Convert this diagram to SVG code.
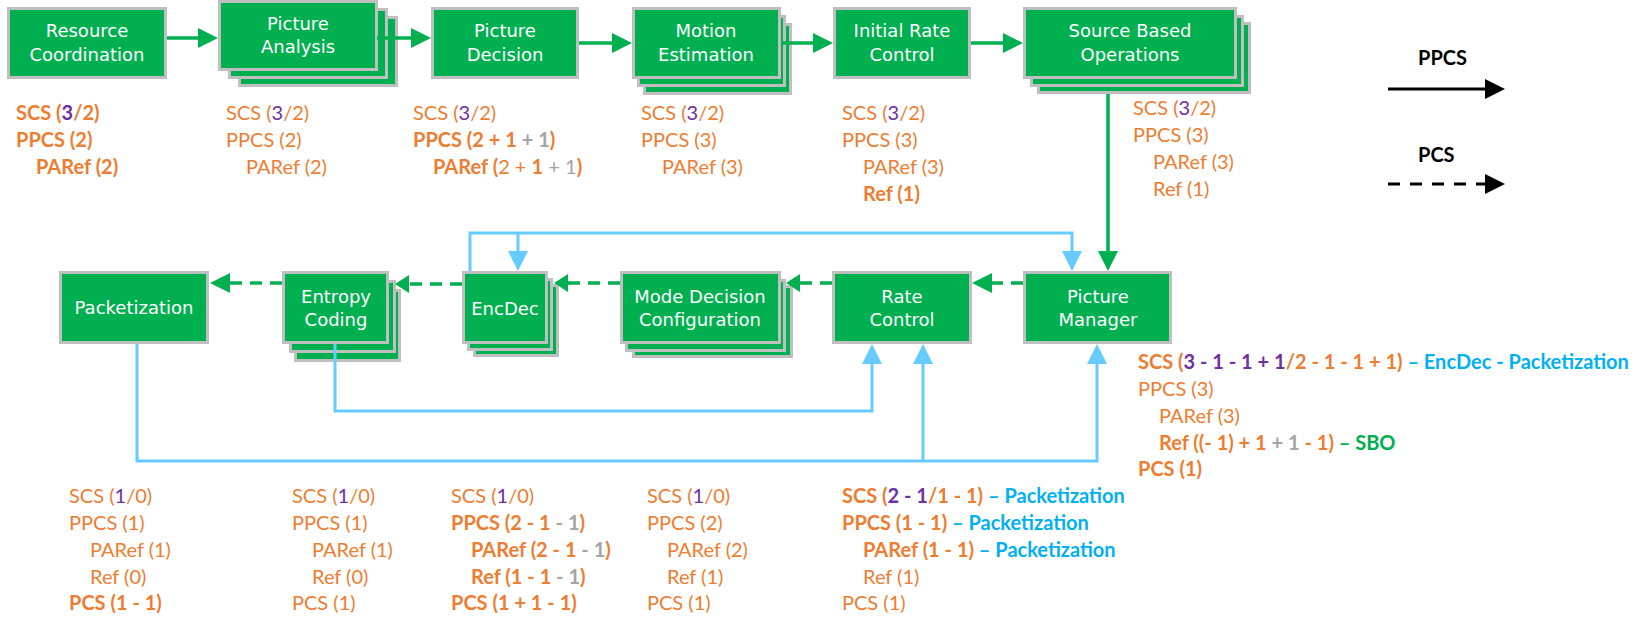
<svg xmlns="http://www.w3.org/2000/svg" width="1640" height="617" viewBox="0 0 1640 617">
<style>
.box{fill:#00B050;stroke:#BFBFBF;stroke-width:3}
.lbl{font-family:"DejaVu Sans",sans-serif;font-size:18px;fill:#fff;text-anchor:middle}
.ann{font-family:Lato,"Liberation Sans",sans-serif;font-size:20px;fill:#ED7D31}
.bd{font-weight:bold}
.p{fill:#7030A0}
.g{fill:#A5A5A5}
.bl{fill:#00B0F0}
.gn{fill:#00B050}
.leg{font-family:Lato,"Liberation Sans",sans-serif;font-size:20px;font-weight:bold;fill:#000}
.cg{fill:none;stroke:#00B050;stroke-width:3.5}
.dash{stroke-dasharray:12 8}
.cb{fill:none;stroke:#66CCFF;stroke-width:3}
.ck{fill:none;stroke:#000;stroke-width:3}
.dk{stroke-dasharray:12 10}
</style>
<defs>
<marker id="hg" markerUnits="userSpaceOnUse" markerWidth="20" markerHeight="20" refX="0" refY="10" orient="auto" overflow="visible"><path d="M0,0L20,10L0,20z" fill="#00B050"/></marker>
<marker id="hgs" markerUnits="userSpaceOnUse" markerWidth="14" markerHeight="18" refX="0" refY="9" orient="auto" overflow="visible"><path d="M0,0L14,9L0,18z" fill="#00B050"/></marker>
<marker id="hb" markerUnits="userSpaceOnUse" markerWidth="20" markerHeight="20" refX="0" refY="10" orient="auto" overflow="visible"><path d="M0,0L20,10L0,20z" fill="#66CCFF"/></marker>
<marker id="hk" markerUnits="userSpaceOnUse" markerWidth="20" markerHeight="20" refX="0" refY="10" orient="auto" overflow="visible"><path d="M0,0L20,10L0,20z" fill="#000"/></marker>
</defs>

<g id="resource-coordination">
<rect class="box" x="8.5" y="8.5" width="157" height="69"/>
<text class="lbl" x="87" y="37">Resource</text>
<text class="lbl" x="87" y="61">Coordination</text>
</g>
<g id="picture-analysis">
<rect class="box" x="239.5" y="17.5" width="157" height="68"/>
<rect class="box" x="229.5" y="9.5" width="157" height="68"/>
<rect class="box" x="219.5" y="1.5" width="157" height="68"/>
<text class="lbl" x="298" y="30">Picture</text>
<text class="lbl" x="298" y="53">Analysis</text>
</g>
<g id="picture-decision">
<rect class="box" x="432.5" y="8.5" width="145" height="69"/>
<text class="lbl" x="505" y="37">Picture</text>
<text class="lbl" x="505" y="61">Decision</text>
</g>
<g id="motion-estimation">
<rect class="box" x="644.5" y="24.5" width="146" height="69"/>
<rect class="box" x="638.5" y="16.5" width="146" height="69"/>
<rect class="box" x="633.5" y="8.5" width="146" height="69"/>
<text class="lbl" x="706" y="37">Motion</text>
<text class="lbl" x="706" y="61">Estimation</text>
</g>
<g id="initial-rate-control">
<rect class="box" x="834.5" y="8.5" width="135" height="69"/>
<text class="lbl" x="902" y="37">Initial Rate</text>
<text class="lbl" x="902" y="61">Control</text>
</g>
<g id="source-based-operations">
<rect class="box" x="1038.5" y="23.5" width="211" height="69"/>
<rect class="box" x="1031.5" y="16.5" width="211" height="69"/>
<rect class="box" x="1024.5" y="8.5" width="211" height="69"/>
<text class="lbl" x="1130" y="37">Source Based</text>
<text class="lbl" x="1130" y="61">Operations</text>
</g>

<g id="packetization">
<rect class="box" x="60.5" y="272.5" width="147" height="70"/>
<text class="lbl" x="134" y="314">Packetization</text>
</g>
<g id="entropy-coding">
<rect class="box" x="295.5" y="290.5" width="104" height="70"/>
<rect class="box" x="290.5" y="281.5" width="104" height="70"/>
<rect class="box" x="283.5" y="272.5" width="104" height="70"/>
<text class="lbl" x="336" y="303">Entropy</text>
<text class="lbl" x="336" y="326">Coding</text>
</g>
<g id="encdec">
<rect class="box" x="474.5" y="285.5" width="83" height="70"/>
<rect class="box" x="468.5" y="279.5" width="83" height="70"/>
<rect class="box" x="463.5" y="272.5" width="83" height="70"/>
<text class="lbl" x="505" y="315">EncDec</text>
</g>
<g id="mode-decision-configuration">
<rect class="box" x="633.5" y="286.5" width="158" height="70"/>
<rect class="box" x="626.5" y="280.5" width="158" height="70"/>
<rect class="box" x="621.5" y="272.5" width="158" height="70"/>
<text class="lbl" x="700" y="303">Mode Decision</text>
<text class="lbl" x="700" y="326">Configuration</text>
</g>
<g id="rate-control">
<rect class="box" x="833.5" y="272.5" width="137" height="70"/>
<text class="lbl" x="902" y="303">Rate</text>
<text class="lbl" x="902" y="326">Control</text>
</g>
<g id="picture-manager">
<rect class="box" x="1024.5" y="272.5" width="146" height="70"/>
<text class="lbl" x="1098" y="303">Picture</text>
<text class="lbl" x="1098" y="326">Manager</text>
</g>

<g id="connectors">
<path class="cg" d="M167,38H198" marker-end="url(#hg)"/>
<path class="cg" d="M377,38H411" marker-end="url(#hg)"/>
<path class="cg" d="M579,43H612" marker-end="url(#hg)"/>
<path class="cg" d="M781,43H813" marker-end="url(#hg)"/>
<path class="cg" d="M971,43H1003" marker-end="url(#hg)"/>
<path class="cg" d="M1108,94V251" marker-end="url(#hg)"/>
<path class="cg dash" d="M1023,283H992" marker-end="url(#hg)"/>
<path class="cg dash" d="M832,283H800" marker-end="url(#hgs)"/>
<path class="cg dash" d="M620,283H568" marker-end="url(#hgs)"/>
<path class="cg dash" d="M462,284H409" marker-end="url(#hgs)"/>
<path class="cg dash" d="M282,283H230" marker-end="url(#hg)"/>
<path class="cb" d="M470,271V233H1072V251" marker-end="url(#hb)"/>
<path class="cb" d="M518,233V251" marker-end="url(#hb)"/>
<path class="cb" d="M335,344V411H872V364" marker-end="url(#hb)"/>
<path class="cb" d="M137,344V461H1097V364" marker-end="url(#hb)"/>
<path class="cb" d="M923,461V364" marker-end="url(#hb)"/>
</g>

<g id="legend">
<text class="leg" x="1418" y="65">PPCS</text>
<path class="ck" d="M1388,89H1485" marker-end="url(#hk)"/>
<text class="leg" x="1418" y="162">PCS</text>
<path class="ck dk" d="M1388,184H1485" marker-end="url(#hk)"/>
</g>

<g id="annotations">
<text class="ann bd" x="16" y="120">SCS (<tspan class="p">3</tspan>/2)</text>
<text class="ann bd" x="16" y="147">PPCS (2)</text>
<text class="ann bd" x="36" y="174">PARef (2)</text>

<text class="ann" x="226" y="120">SCS (<tspan class="p">3</tspan>/2)</text>
<text class="ann" x="226" y="147">PPCS (2)</text>
<text class="ann" x="246" y="174">PARef (2)</text>

<text class="ann" x="413" y="120">SCS (<tspan class="p">3</tspan>/2)</text>
<text class="ann bd" x="413" y="147">PPCS (2 + 1<tspan class="g"> + 1</tspan>)</text>
<text class="ann" x="433" y="174"><tspan class="bd">PARef (</tspan>2 + <tspan class="bd">1</tspan><tspan class="g"> + 1</tspan><tspan class="bd">)</tspan></text>

<text class="ann" x="641" y="120">SCS (<tspan class="p">3</tspan>/2)</text>
<text class="ann" x="641" y="147">PPCS (3)</text>
<text class="ann" x="662" y="174">PARef (3)</text>

<text class="ann" x="842" y="120">SCS (<tspan class="p">3</tspan>/2)</text>
<text class="ann" x="842" y="147">PPCS (3)</text>
<text class="ann" x="863" y="174">PARef (3)</text>
<text class="ann bd" x="863" y="201">Ref (1)</text>

<text class="ann" x="1133" y="115">SCS (<tspan class="p">3</tspan>/2)</text>
<text class="ann" x="1133" y="142">PPCS (3)</text>
<text class="ann" x="1153" y="169">PARef (3)</text>
<text class="ann" x="1153" y="196">Ref (1)</text>

<text class="ann bd" x="1138" y="369">SCS (<tspan class="p">3 - 1 - 1 + 1</tspan>/2 - 1 - 1 + 1)<tspan class="bl"> – EncDec - Packetization</tspan></text>
<text class="ann" x="1138" y="396">PPCS (3)</text>
<text class="ann" x="1159" y="423">PARef (3)</text>
<text class="ann bd" x="1159" y="450">Ref ((- 1) + 1<tspan class="g"> + 1</tspan> - 1)<tspan class="gn"> – SBO</tspan></text>
<text class="ann bd" x="1138" y="476">PCS (1)</text>

<text class="ann" x="69" y="503">SCS (<tspan class="p">1</tspan>/0)</text>
<text class="ann" x="69" y="530">PPCS (1)</text>
<text class="ann" x="90" y="557">PARef (1)</text>
<text class="ann" x="90" y="584">Ref (0)</text>
<text class="ann bd" x="69" y="610">PCS (1 - 1)</text>

<text class="ann" x="292" y="503">SCS (<tspan class="p">1</tspan>/0)</text>
<text class="ann" x="292" y="530">PPCS (1)</text>
<text class="ann" x="312" y="557">PARef (1)</text>
<text class="ann" x="312" y="584">Ref (0)</text>
<text class="ann" x="292" y="610">PCS (1)</text>

<text class="ann" x="451" y="503">SCS (<tspan class="p">1</tspan>/0)</text>
<text class="ann bd" x="451" y="530">PPCS (2 - 1<tspan class="g"> - 1</tspan>)</text>
<text class="ann bd" x="471" y="557">PARef (2 - 1<tspan class="g"> - 1</tspan>)</text>
<text class="ann bd" x="471" y="584">Ref (1 - 1<tspan class="g"> - 1</tspan>)</text>
<text class="ann bd" x="451" y="610">PCS (1 + 1 - 1)</text>

<text class="ann" x="647" y="503">SCS (<tspan class="p">1</tspan>/0)</text>
<text class="ann" x="647" y="530">PPCS (2)</text>
<text class="ann" x="667" y="557">PARef (2)</text>
<text class="ann" x="667" y="584">Ref (1)</text>
<text class="ann" x="647" y="610">PCS (1)</text>

<text class="ann bd" x="842" y="503">SCS (<tspan class="p">2 - 1</tspan>/1 - 1)<tspan class="bl"> – Packetization</tspan></text>
<text class="ann bd" x="842" y="530">PPCS (1 - 1)<tspan class="bl"> – Packetization</tspan></text>
<text class="ann bd" x="863" y="557">PARef (1 - 1)<tspan class="bl"> – Packetization</tspan></text>
<text class="ann" x="863" y="584">Ref (1)</text>
<text class="ann" x="842" y="610">PCS (1)</text>
</g>
</svg>
